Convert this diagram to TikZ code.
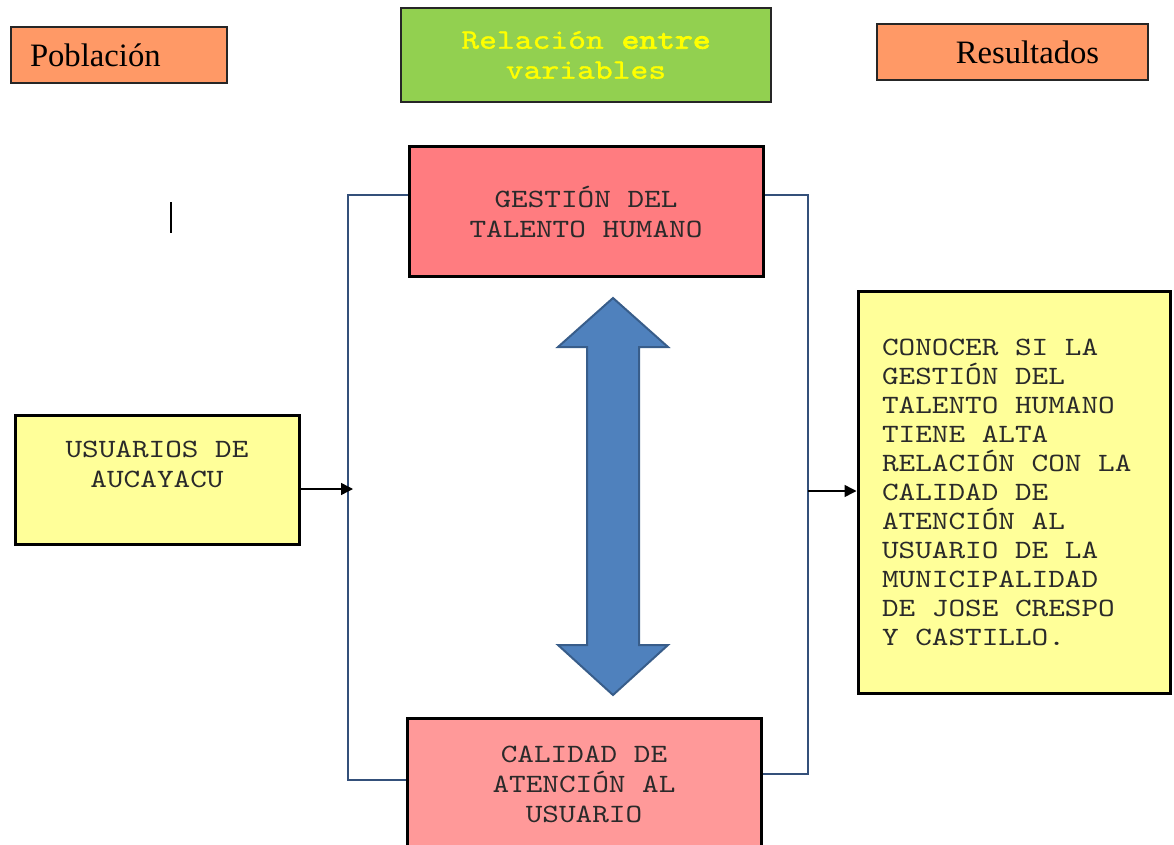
\documentclass[tikz,border=0pt]{standalone}
\usepackage{fontspec}
\setmainfont{Liberation Serif}
\newfontfamily\monof[Extension=.otf, UprightFont=*-regular, BoldFont=lmmonolt10-bold, FakeStretch=1.2]{lmmono10}
\newfontfamily\hdrf[Extension=.otf, UprightFont=*-regular, FakeStretch=1.2, FakeBold=1.2]{lmmono10}
\newfontfamily\hdrbf[Extension=.otf, UprightFont=*-regular, FakeStretch=1.2, FakeBold=3]{lmmono10}
\usetikzlibrary{arrows.meta}
\definecolor{pobfill}{HTML}{FF9966}
\definecolor{relfill}{HTML}{92D050}
\definecolor{gthfill}{HTML}{FF7C80}
\definecolor{calfill}{HTML}{FF9999}
\definecolor{ylwfill}{HTML}{FFFF99}
\definecolor{blufill}{HTML}{4F81BD}
\definecolor{bluedge}{HTML}{385D8A}
\definecolor{conncol}{HTML}{34507A}
\definecolor{txtgray}{HTML}{2A2A2A}
\definecolor{ylwtext}{HTML}{FFFF00}
\tikzset{
  hdrbox/.style={draw=black!85, line width=1.5pt, inner sep=0pt},
  mainbox/.style={draw=black, line width=2.25pt, inner sep=0pt, align=center,
    font=\monof\fontsize{19.8pt}{22.5pt}\selectfont, text=txtgray},
  conn/.style={draw=conncol, line width=1.1pt},
  arr/.style={draw=black, line width=1.1pt, -{Triangle[length=9pt,width=9pt]}},
}
\begin{document}
\begin{tikzpicture}[x=0.75pt,y=-0.75pt]
\useasboundingbox (0,0) rectangle (1174,845);
% header boxes
\node[hdrbox, fill=pobfill, minimum width=162pt, minimum height=42pt,
      text width=133.5pt, inner xsep=14.25pt, align=left,
      font=\fontsize{24.5pt}{26pt}\selectfont] (pob) at (119,55) {Población};
\node[hdrbox, fill=relfill, minimum width=277.5pt, minimum height=70.5pt, align=center,
      text=ylwtext, font=\hdrf\fontsize{21.2pt}{22.5pt}\selectfont] (rel) at (586,55)
      {Relación {\hdrbf entre}\\variables};
\node[hdrbox, fill=pobfill, minimum width=203.25pt, minimum height=42pt,
      font=\fontsize{24.5pt}{26pt}\selectfont] (res) at (1012.5,52) {\hspace*{22.5pt}Resultados};
% stray mark
\draw[line width=1.1pt] (171,202) -- (171,233);
% variable boxes
\node[mainbox, fill=gthfill, minimum width=265.5pt, minimum height=96.75pt] (gth) at (586,211.5)
      {GESTIÓN DEL\\TALENTO HUMANO};
\node[mainbox, fill=calfill, minimum width=265.5pt, minimum height=99pt] (cal) at (584,784)
      {CALIDAD DE\\ATENCIÓN AL\\USUARIO};
% population and result boxes
\node[mainbox, fill=ylwfill, minimum width=213pt, minimum height=96.75pt] (usu) at (157,479.5)
      {USUARIOS DE\\AUCAYACU\\\mbox{}};
\node[mainbox, fill=ylwfill, minimum width=234pt, minimum height=301.5pt,
      text width=198pt, inner xsep=18pt, align=left,
      font=\monof\fontsize{19.8pt}{21.75pt}\selectfont] (rbox) at (1014,492)
      {\spaceskip=0pt\xspaceskip=0pt CONOCER SI LA\\GESTIÓN DEL\\TALENTO HUMANO\\TIENE ALTA\\RELACIÓN CON LA\\CALIDAD DE\\ATENCIÓN AL\\USUARIO DE LA\\MUNICIPALIDAD\\DE JOSE CRESPO\\Y CASTILLO.};
% connectors
\coordinate (lt) at (348,195);
\coordinate (lb) at (348,780);
\coordinate (rt) at (808,195);
\coordinate (rb) at (808,774);
\coordinate (la) at (353,489);
\coordinate (ra) at (808,491);
\draw[conn] (gth.west |- lt) -- (lt) -- (lb) -- (cal.west |- lb);
\draw[conn] (gth.east |- rt) -- (rt) -- (rb) -- (cal.east |- rb);
\draw[arr] (usu.east |- la) -- (la);
\draw[arr] (ra) -- (rbox.west |- ra);
% double arrow
\draw[fill=blufill, draw=bluedge, line width=1.5pt, line join=miter]
  (613,298) -- (558,347) -- (587,347) -- (587,645) -- (558,645) -- (613,695)
  -- (668,645) -- (639,645) -- (639,347) -- (668,347) -- cycle;
\end{tikzpicture}
\end{document}
